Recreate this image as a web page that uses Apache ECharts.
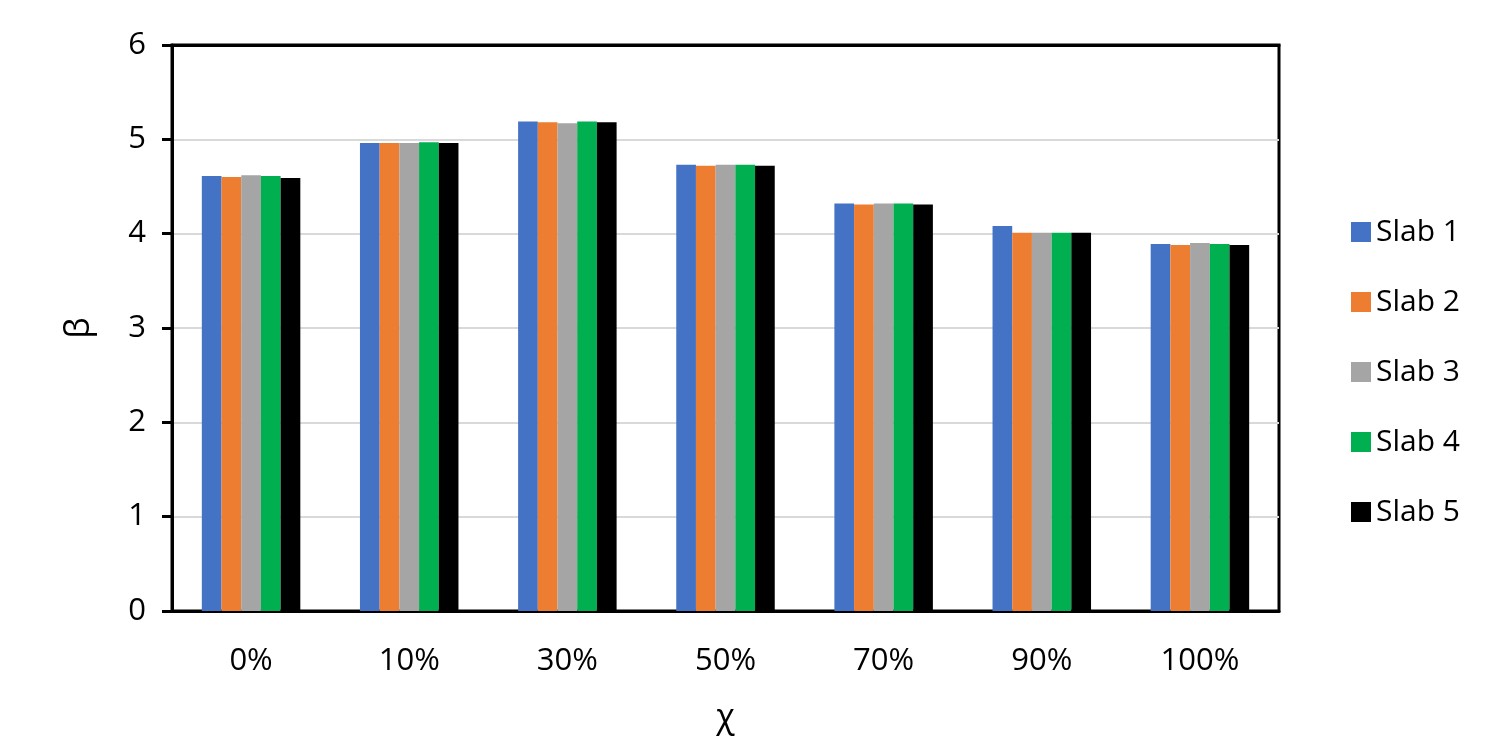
<!DOCTYPE html>
<html>
<head>
<meta charset="utf-8">
<script src="https://cdn.jsdelivr.net/npm/echarts@6/dist/echarts.min.js"></script>
<style>html,body{margin:0;padding:0;background:#fff;}#c{width:1496px;height:754px;}</style>
</head>
<body>
<div id="c"></div>
<script>
const categories = ['0%', '10%', '30%', '50%', '70%', '90%', '100%'];
const slab1 = [4.61, 4.96, 5.19, 4.73, 4.32, 4.08, 3.89];
const slab2 = [4.60, 4.96, 5.18, 4.72, 4.31, 4.01, 3.88];
const slab3 = [4.62, 4.96, 5.17, 4.73, 4.32, 4.01, 3.90];
const slab4 = [4.61, 4.97, 5.19, 4.73, 4.32, 4.01, 3.89];
const slab5 = [4.59, 4.96, 5.18, 4.72, 4.31, 4.01, 3.88];
const seriesNames = ['Slab 1', 'Slab 2', 'Slab 3', 'Slab 4', 'Slab 5'];
const seriesData = [slab1, slab2, slab3, slab4, slab5];
const colors = ['#4472C4', '#ED7D31', '#A5A5A5', '#00B050', '#000000'];
const yTicks = [0, 1, 2, 3, 4, 5, 6];

const font = '"Open Sans", "Liberation Sans", sans-serif';
const chart = echarts.init(document.getElementById('c'));
chart.setOption({
  animation: false,
  color: colors,
  textStyle: { fontFamily: font },
  grid: { left: 172, right: 217, top: 45, bottom: 143, show: true, borderColor: '#000', borderWidth: 3, backgroundColor: 'transparent' },
  legend: {
    orient: 'vertical', left: 1346, top: 212,
    itemWidth: 20, itemHeight: 20, itemGap: 40, icon: 'rect',
    textStyle: { fontSize: 30, color: '#000', fontFamily: font, padding: [0, 0, 0, 0] },
    data: seriesNames
  },
  xAxis: [{
    type: 'category', data: categories,
    name: 'χ', nameLocation: 'middle', nameGap: 90,
    nameTextStyle: { fontSize: 34, color: '#000', fontFamily: font },
    axisLine: { lineStyle: { color: '#000', width: 3 } },
    axisTick: { show: false },
    axisLabel: { fontSize: 31, color: '#000', margin: 35, fontFamily: font }
  }, {
    type: 'category', data: categories, position: 'top',
    axisLine: { show: true, lineStyle: { color: '#000', width: 3 } },
    axisTick: { show: false }, axisLabel: { show: false }, splitLine: { show: false }
  }],
  yAxis: {
    type: 'value', min: yTicks[0], max: yTicks[yTicks.length - 1], interval: 1,
    name: 'β', nameLocation: 'middle', nameGap: 76,
    nameTextStyle: { fontSize: 34, color: '#000', fontFamily: font },
    axisLine: { show: true, lineStyle: { color: '#000', width: 3 } },
    axisTick: { show: true, inside: false, length: 10, lineStyle: { color: '#000', width: 3 } },
    axisLabel: { fontSize: 31, color: '#000', margin: 26, fontFamily: font },
    splitLine: { lineStyle: { color: '#D9D9D9', width: 2 } }
  },
  series: seriesNames.map((n, i) => ({
    name: n, type: 'bar', data: seriesData[i],
    barWidth: 19.7, barGap: '0%', barCategoryGap: '37.7%',
    itemStyle: { color: colors[i] }
  }))
});
</script>
</body>
</html>
